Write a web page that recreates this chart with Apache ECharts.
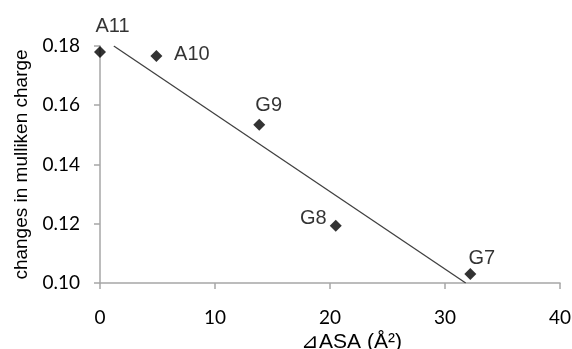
<!DOCTYPE html>
<html>
<head>
<meta charset="utf-8">
<script src="https://cdn.jsdelivr.net/npm/echarts@6/dist/echarts.min.js"></script>
<style>html,body{margin:0;padding:0;background:#fff}#c{width:572px;height:349px}</style>
</head>
<body>
<div id="c"></div>
<script>
// Data
var pointNames = ['A11', 'A10', 'G9', 'G8', 'G7'];
var deltaASA = [0, 4.9, 13.85, 20.5, 32.2];
var chargeChange = [0.178, 0.1766, 0.1534, 0.1193, 0.103];
var trendX = [1.2, 31.8];
var trendY = [0.18, 0.10];
var xTicks = [0, 10, 20, 30, 40];
var yTicks = [0.10, 0.12, 0.14, 0.16, 0.18];

// label offsets (layout, separate from data)
var labelOffsets = [[12.5, -25.5], [35.5, -1.6], [9.4, -19], [-22.5, -7.7], [11.5, -15.6]];

var scatterData = pointNames.map(function (n, i) {
  return {
    name: n,
    value: [deltaASA[i], chargeChange[i]],
    label: { offset: labelOffsets[i] }
  };
});
var lineData = trendX.map(function (x, i) { return [x, trendY[i]]; });

var chart = echarts.init(document.getElementById('c'), null, { renderer: 'canvas' });
var axisGray = '#a6a6a6';
chart.setOption({
  animation: false,
  backgroundColor: '#fff',
  grid: { left: 100, right: 12, top: 46, bottom: 66, containLabel: false, outerBoundsMode: 'none' },
  xAxis: {
    type: 'value', min: xTicks[0], max: xTicks[xTicks.length - 1], interval: 10,
    name: '⊿ASA (Å²)', nameLocation: 'middle', nameGap: 48,
    nameTextStyle: { fontFamily: 'Liberation Sans, Arial, sans-serif', fontSize: 21, color: '#000',
      padding: [0, 0, 0, 43] },
    axisLine: { show: true, lineStyle: { color: axisGray, width: 1.5 } },
    axisTick: { show: true, inside: false, length: 6, lineStyle: { color: axisGray, width: 1.5 } },
    axisLabel: { margin: 25, fontFamily: 'Lato, sans-serif', fontSize: 19, color: '#000' },
    splitLine: { show: false }
  },
  yAxis: {
    type: 'value', min: yTicks[0], max: yTicks[yTicks.length - 1], interval: 0.02,
    name: 'changes in mulliken charge', nameLocation: 'middle', nameGap: 66, nameRotate: 90,
    nameTextStyle: { fontFamily: 'Liberation Sans, Arial, sans-serif', fontSize: 19, color: '#000' },
    axisLine: { show: true, lineStyle: { color: axisGray, width: 1.5 } },
    axisTick: { show: true, inside: false, length: 6, lineStyle: { color: axisGray, width: 1.5 } },
    axisLabel: { margin: 20, fontFamily: 'Lato, sans-serif', fontSize: 19, color: '#000',
      formatter: function (v) { return v.toFixed(2); } },
    splitLine: { show: false }
  },
  series: [
    {
      type: 'line', data: lineData, symbol: 'none', silent: true,
      lineStyle: { color: '#404040', width: 1.3 }, z: 1
    },
    {
      type: 'scatter', data: scatterData, symbol: 'diamond', symbolSize: 12,
      itemStyle: { color: '#000' }, z: 3,
      label: {
        show: true, position: 'inside', align: 'center', verticalAlign: 'middle',
        formatter: '{b}', color: '#000', fontSize: 20, textBorderWidth: 0,
        fontFamily: 'Liberation Sans, Arial, sans-serif'
      }
    }
  ]
});
</script>
</body>
</html>
